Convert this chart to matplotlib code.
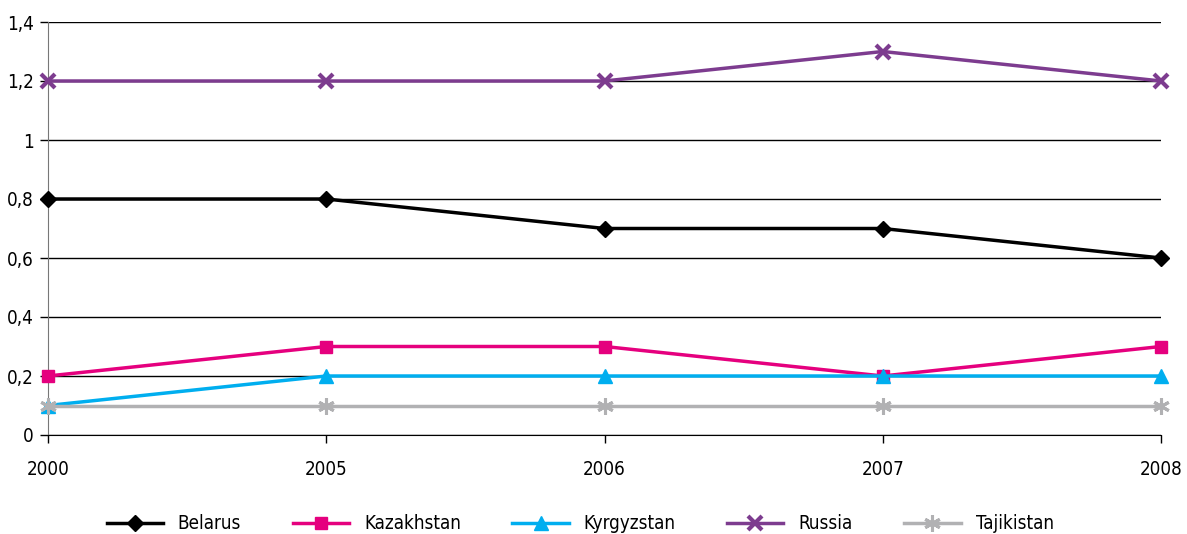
import numpy as np
import matplotlib
matplotlib.use("Agg")
import matplotlib.pyplot as plt

plt.rcParams['font.family'] = ['DejaVu Sans']
plt.rcParams['font.stretch'] = 'condensed'

# data
years = ["2000", "2005", "2006", "2007", "2008"]
belarus = [0.8, 0.8, 0.7, 0.7, 0.6]
kazakhstan = [0.2, 0.3, 0.3, 0.2, 0.3]
kyrgyzstan = [0.1, 0.2, 0.2, 0.2, 0.2]
russia = [1.2, 1.2, 1.2, 1.3, 1.2]
tajikistan = [0.1, 0.1, 0.1, 0.1, 0.1]

series = [
    ("Belarus", belarus, "#000000", "D", 8, 1),
    ("Kazakhstan", kazakhstan, "#E5007E", "s", 9, 1),
    ("Kyrgyzstan", kyrgyzstan, "#00AEEF", "^", 10, 1),
    ("Russia", russia, "#7D3C8F", "x", 10, 3),
    ("Tajikistan", tajikistan, "#B1B1B3", (6, 2, 0), 12, 2.2),
]

fig = plt.figure(figsize=(11.87, 5.34), dpi=100)
ax = fig.add_axes([48/1187, 1 - 435/534, (1161 - 48)/1187, (435 - 22)/534])

x = np.arange(len(years))
for name, vals, col, mk, ms, mew in series:
    ax.plot(x, vals, color=col, lw=2.5, marker=mk, markersize=ms,
            markeredgewidth=mew, markeredgecolor=col, label=name,
            clip_on=False, zorder=3)

ax.set_xlim(0, len(years) - 1)
ax.set_ylim(0, 1.4)
ax.set_xticks(x)
ax.set_xticklabels(years)
yt = np.arange(0, 1.41, 0.2)
ax.set_yticks(yt)
ax.set_yticklabels([("%g" % v).replace(".", ",") for v in yt])
ax.yaxis.grid(True, color="black", lw=1)
ax.set_axisbelow(True)

ax.spines['top'].set_visible(False)
ax.spines['right'].set_visible(False)
ax.spines['left'].set_color("#777777")
ax.spines['bottom'].set_color("black")
ax.tick_params(axis='both', direction='out', length=6, labelsize=13.5, width=1)
ax.tick_params(axis='x', pad=12)
ax.tick_params(axis='y', pad=4)

ax.legend(loc='center', bbox_to_anchor=(0.478, -0.215), ncol=5, frameon=False,
          fontsize=13.5, handlelength=3.0, columnspacing=2.75, handletextpad=0.8)

fig.savefig("out.png", dpi=100)
